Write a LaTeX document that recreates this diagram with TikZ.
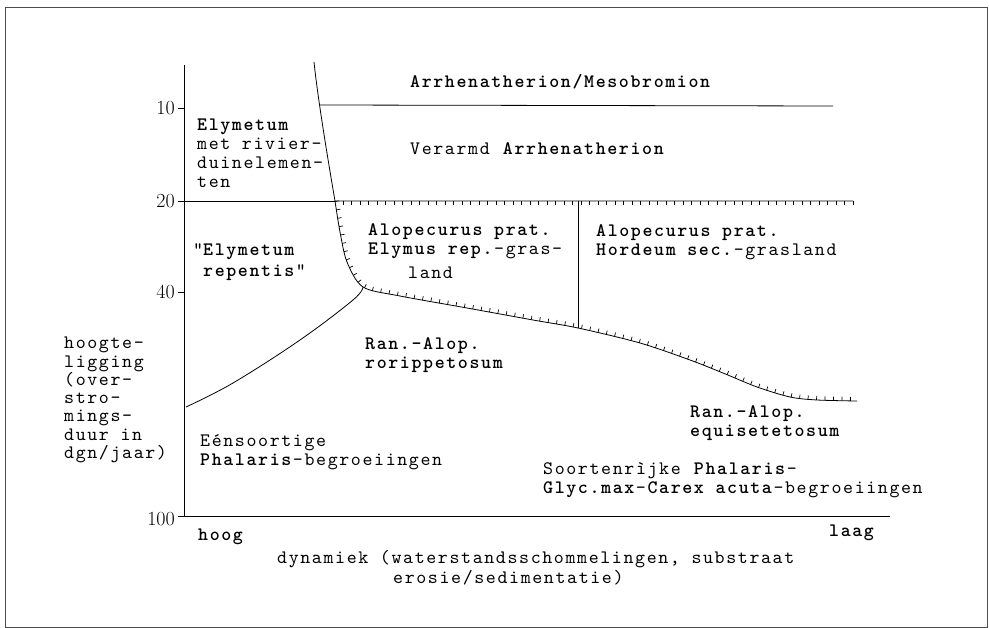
\documentclass[tikz,border=0pt]{standalone}
\usepackage{fontspec}
\newfontfamily\typefont{lmmono10-regular}[Extension=.otf, BoldFont=lmmonolt10-bold, LetterSpace=8.55]
\usetikzlibrary{decorations.markings}

\tikzstyle{zone} = [font=\typefont\fontsize{19}{19}\selectfont, align=left, anchor=west, inner sep=0pt]
\tikzstyle{num} = [font=\fontsize{20}{20}\selectfont, anchor=east, inner sep=0pt]
\tikzstyle{boundary} = [line width=0.8pt]
\tikzstyle{hatched} = [line width=0.8pt, postaction={decorate},
  decoration={markings, mark=between positions 0 and 1 step 8.5pt with {\draw[line width=0.7pt] (0pt,0pt) -- (0pt,4pt);}}]

\begin{document}
\begin{tikzpicture}[x=1pt, y=-1pt]
	\useasboundingbox (0,0) rectangle (989,628);
	\draw[line width=1pt, black!70] (5,8) rectangle (987,627);
	
	% axes
	\coordinate (o) at (184,516);
	\coordinate (ytop) at (184,65);
	\coordinate (xend) at (890,516);
	\draw[boundary] (ytop) -- (o) -- (xend);
	
	\draw[boundary] (178,108) -- (184,108);
	\draw[boundary] (178,292) -- (184,292);
	\draw[boundary] (178,516) -- (184,516);
	\node[num] (n10) at (175,108) {10};
	\node[num] (n20) at (175,201) {20};
	\node[num] (n40) at (175,292) {40};
	\node[num] (n100) at (175,519) {100};
	
	% boundaries
	\coordinate (c1) at (314,62);
	\coordinate (c2) at (335,201);
	\coordinate (c3) at (363,287);
	\coordinate (c4) at (578,328);
	\coordinate (c5) at (578,201);
	\coordinate (c6) at (853,201);
	\coordinate (c7) at (857,401);
	\coordinate (c8) at (186,407);
	\coordinate (h1) at (178,201);
	\coordinate (s1) at (320,105);
	\coordinate (s2) at (833,106);
	
	\draw[boundary] (s1) -- (s2);
	\draw[boundary] (c1) .. controls (318,100) and (328,160) .. (c2);
	\draw[boundary] (h1) -- (c2);
	\draw[hatched] (c6) -- (c2) -- plot[smooth, tension=0.5] coordinates {(c2) (340,232) (347,262) (c3) (400,296) (467,308) (533,320) (c4) (640,343) (690,360) (723,373) (757,387) (790,397) (817,400) (c7)};
	\draw[boundary] (c5) -- (c4);
	\draw[boundary] plot[smooth, tension=0.6] coordinates {(c3) (353,300) (300,340) (233,383) (c8)};
	
	% vegetation types
	\node[zone] (z1) at (410,82) {\textbf{Arrhenatherion/Mesobromion}};
	\node[zone] (z2) at (410,149) {Verarmd \textbf{Arrhenatherion}};
	\node[zone] (z3) at (197,153.5) {\textbf{Elymetum}\\met rivier-\\duinelemen-\\ten};
	\node[zone] (z4) at (203,262) {\llap{"}\textbf{Elymetum}\\[2pt]\textbf{repentis}"};
	\node[zone] (z5) at (368,251.5) {\textbf{Alopecurus prat.}\\\textbf{Elymus rep.}-gras-\\[5pt]\hspace{40pt}land};
	\node[zone] (z6) at (596,242) {\textbf{Alopecurus prat.}\\\textbf{Hordeum sec.}-grasland};
	\node[zone] (z7) at (365,355) {\textbf{Ran.-Alop.}\\\textbf{rorippetosum}};
	\node[zone] (z8) at (690,423) {\textbf{Ran.-Alop.}\\\textbf{equisetetosum}};
	\node[zone] (z9) at (200,452.5) {Eénsoortige\\\textbf{Phalaris}-begroeiingen};
	\node[zone] (z10) at (543,480) {Soortenrìjke \textbf{Phalaris}-\\\textbf{Glyc.max}-\textbf{Carex acuta}-begroeiingen};
	
	% axis labels
	\node[zone, font=\typefont\fontsize{19}{18.3}\selectfont] (z11) at (64,400) {hoogte-\\ligging\\(over-\\stro-\\mings-\\duur in\\dgn/jaar)};
	\node[zone] (z12) at (198,537) {\textbf{hoog}};
	\node[zone] (z13) at (829,533) {\textbf{laag}};
	\node[zone, font=\typefont\fontsize{19}{20}\selectfont] (z14) at (277,568) {dynamiek (waterstandsschommelingen, substraat\\\hspace{116pt}erosie/sedimentatie)};
\end{tikzpicture}
\end{document}
